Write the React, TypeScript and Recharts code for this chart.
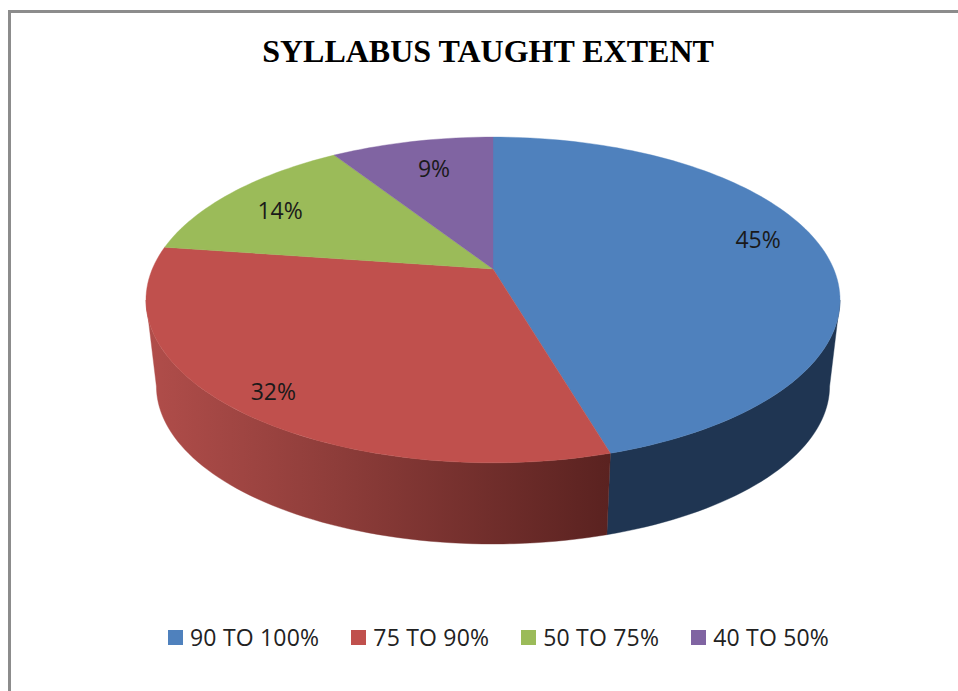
import React from 'react';
import { PieChart, Pie, Cell, Legend } from 'recharts';

const categories = ['90 TO 100%', '75 TO 90%', '50 TO 75%', '40 TO 50%'];
const teacherCounts = [10, 7, 3, 2];
const topColors = ['#4f81bd', '#c0504d', '#9bbb59', '#8064a2'];
const wallColors = ['#1f3552', 'url(#redWall)', '#5f7336', '#4d3c62'];
const labelNudges = [[1, -13], [-18, 15], [-1, 4], [8, 4]];

const chartData = categories.map((name, i) => ({ name, value: teacherCounts[i] }));

const PERSPECTIVE = 0.19;
const Y_SQUASH = 157 / 340.7;
const WALL_SCALE = 0.97;
const WALL_DROP = 87;
const WALL_FROM = -11;
const WALL_TO = -169;

function project(cx: number, cy: number, radius: number, deg: number, f = 1) {
  const a = (deg * Math.PI) / 180;
  const u = Math.cos(a) * f;
  const v = Math.sin(a) * f;
  const w = 1 + PERSPECTIVE * v;
  return { x: cx + (radius * u) / w, y: cy - (radius * Y_SQUASH * v) / w };
}

function arcPoints(cx: number, cy: number, r: number, from: number, to: number) {
  const n = Math.max(2, Math.ceil(Math.abs(to - from) / 1.5));
  const pts: { x: number; y: number }[] = [];
  for (let i = 0; i <= n; i++) pts.push(project(cx, cy, r, from + ((to - from) * i) / n));
  return pts;
}

const toPath = (pts: { x: number; y: number }[]) =>
  pts.map((p, i) => `${i ? 'L' : 'M'}${p.x.toFixed(2)} ${p.y.toFixed(2)}`).join(' ') + ' Z';

const TopSlice = (p: any) => {
  const pts = [{ x: p.cx, y: p.cy }, ...arcPoints(p.cx, p.cy, p.outerRadius, p.startAngle, p.endAngle)];
  return <path d={toPath(pts)} fill={p.fill} stroke={p.fill} strokeWidth={0.4} />;
};

const WallSlice = (p: any) => {
  const from = Math.min(p.startAngle, WALL_FROM);
  const to = Math.max(p.endAngle, WALL_TO);
  if (from <= to) return <g />;
  const top = arcPoints(p.cx, p.cy, p.outerRadius, from, to);
  const bottom = arcPoints(p.cx, p.cy + WALL_DROP, p.outerRadius * WALL_SCALE, to, from);
  return <path d={toPath([...top, ...bottom])} fill={p.fill} stroke={p.fill} strokeWidth={0.4} />;
};

const renderLabel = (p: any) => {
  const at = project(p.cx, p.cy, p.outerRadius, p.midAngle, 0.8);
  const [dx, dy] = labelNudges[p.index];
  return (
    <text
      x={at.x + dx}
      y={at.y + dy}
      textAnchor="middle"
      dominantBaseline="central"
      fontFamily="'Open Sans', sans-serif"
      fontSize={23}
      fill="#1a1a1a"
    >
      {`${Math.round(p.percent * 100)}%`}
    </text>
  );
};

const LegendRow = ({ payload }: any) => {
  const items = (payload || [])
    .filter((item: any) => topColors.includes(item.color))
    .sort((a: any, b: any) => categories.indexOf(a.value) - categories.indexOf(b.value));
  return (
    <div style={{ display: 'flex', fontFamily: "'Open Sans', sans-serif", fontSize: 23, letterSpacing: 0.2, color: '#222', lineHeight: '26px' }}>
      {items.map((item: any) => (
        <div key={item.value} style={{ display: 'flex', alignItems: 'center', marginRight: 32 }}>
          <span style={{ width: 15, height: 15, background: item.color, marginRight: 7, display: 'inline-block' }} />
          <span style={{ whiteSpace: 'nowrap' }}>{item.value}</span>
        </div>
      ))}
    </div>
  );
};

export default function App() {
  return (
    <div style={{ position: 'absolute', left: 0, top: 0, width: 958, height: 691, background: '#fff', overflow: 'hidden' }}>
      <div style={{ position: 'absolute', left: 8, top: 10, right: -5, bottom: -5, borderLeft: '3px solid #8c8c8c', borderTop: '3px solid #8c8c8c' }} />
      <PieChart width={958} height={691} margin={{ top: 0, right: 0, bottom: 0, left: 0 }}>
        <defs>
          <linearGradient id="redWall" gradientUnits="userSpaceOnUse" x1="150" y1="0" x2="610" y2="0">
            <stop offset="0" stopColor="#b04d4a" />
            <stop offset="0.4" stopColor="#8e3d3a" />
            <stop offset="1" stopColor="#5a2220" />
          </linearGradient>
        </defs>
        <text x={488} y={62} textAnchor="middle" fontFamily="'Liberation Serif', serif" fontWeight="bold" fontSize={32} fill="#000">
          SYLLABUS TAUGHT EXTENT
        </text>
        <Pie
          data={chartData}
          dataKey="value"
          nameKey="name"
          cx={493}
          cy={269}
          outerRadius={340.7}
          startAngle={90}
          endAngle={-270}
          legendType="none"
          isAnimationActive={false}
          shape={WallSlice}
          label={false}
          labelLine={false}
          stroke="none"
        >
          {chartData.map((d, i) => (
            <Cell key={d.name} fill={wallColors[i]} />
          ))}
        </Pie>
        <Pie
          data={chartData}
          dataKey="value"
          nameKey="name"
          cx={493}
          cy={269}
          outerRadius={340.7}
          startAngle={90}
          endAngle={-270}
          isAnimationActive={false}
          shape={TopSlice}
          label={renderLabel}
          labelLine={false}
          stroke="none"
        >
          {chartData.map((d, i) => (
            <Cell key={d.name} fill={topColors[i]} />
          ))}
        </Pie>
        <Legend
          content={<LegendRow />}
          wrapperStyle={{ position: 'absolute', left: 168, top: 624, width: 'auto', bottom: 'auto' }}
        />
      </PieChart>
    </div>
  );
}
